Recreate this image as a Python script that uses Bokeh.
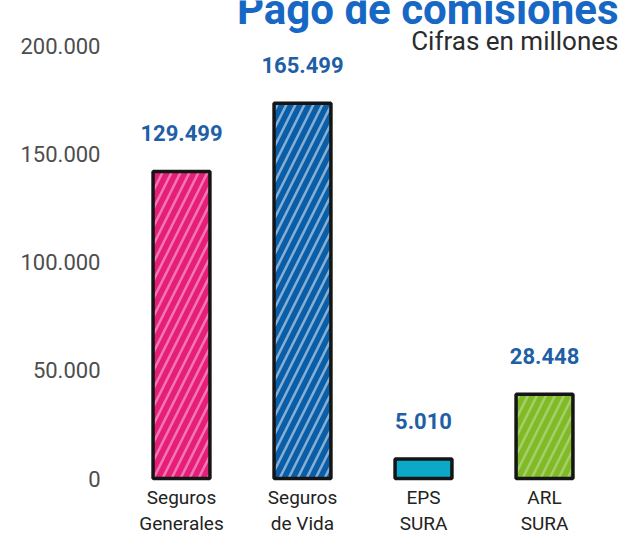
from bokeh.plotting import figure
from bokeh.models import FactorRange, Range1d, FixedTicker, ColumnDataSource
from bokeh.core.properties import value
from bokeh.embed import file_html
from bokeh.resources import INLINE

# ---- data ----
categorias = ["Seguros\nGenerales", "Seguros\nde Vida", "EPS\nSURA", "ARL\nSURA"]
etiquetas_valor = ["129.499", "165.499", "5.010", "28.448"]
alturas_dibujadas = [142000, 173500, 9000, 39000]   # bar heights as drawn on the axis
colores = ["#E61E7A", "#0A5EA8", "#0BA8C9", "#80BA27"]
hatch_alfa = [0.4, 0.5, 0.0, 0.3]
ticks = [0, 50000, 100000, 150000, 200000]
tick_labels = ["0", "50.000", "100.000", "150.000", "200.000"]
titulo = "Pago de comisiones"
subtitulo = "Cifras en millones"

src = ColumnDataSource(dict(cat=categorias, h=alturas_dibujadas, lab=etiquetas_valor,
                            col=colores, ha=hatch_alfa))

p = figure(width=620, height=535, output_backend="svg", toolbar_location=None,
           x_range=FactorRange(factors=categorias, range_padding=0.128,
                               range_padding_units="absolute"),
           y_range=Range1d(-26358, 221040),
           min_border_left=105, min_border_right=0, min_border_top=0, min_border_bottom=0)

p.background_fill_color = "white"
p.border_fill_color = "white"
p.outline_line_color = None
p.xgrid.visible = False
p.ygrid.visible = False
p.xaxis.visible = False

ya = p.yaxis[0]
ya.ticker = FixedTicker(ticks=ticks)
ya.major_label_overrides = {t: l for t, l in zip(ticks, tick_labels)}
ya.axis_line_color = None
ya.major_tick_line_color = None
ya.minor_tick_line_color = None
ya.major_tick_out = 0
ya.major_tick_in = 0
ya.major_label_standoff = 5
ya.major_label_text_font = "Roboto"
ya.major_label_text_font_size = "22px"
ya.major_label_text_color = "#4d4d4d"

p.vbar(x="cat", top="h", bottom=0, width=0.47, source=src,
       fill_color="col", line_color="#151515", line_width=3.5,
       hatch_pattern="/", hatch_color="white", hatch_alpha="ha",
       hatch_scale=18, hatch_weight=2.5)

p.text(x="cat", y="h", text="lab", source=src, y_offset=-38,
       text_align="center", text_baseline="alphabetic",
       text_font=value("Roboto"), text_font_style="bold",
       text_font_size="22px", text_color="#1F5FA6")

p.text(x="cat", y=-3237, text="cat", source=src,
       text_align="center", text_baseline="top",
       text_font=value("Roboto"), text_font_size="19px", text_color="#222222",
       text_line_height=1.15)

p.text(x=[categorias[-1]], y=[216879], text=[titulo], x_offset=74,
       text_align="right", text_baseline="alphabetic",
       text_font=value("Roboto"), text_font_style="bold",
       text_font_size="42px", text_color="#1767C4")

p.text(x=[categorias[-1]], y=[202081], text=[subtitulo], x_offset=74,
       text_align="right", text_baseline="alphabetic",
       text_font=value("Roboto"), text_font_size="26px", text_color="#2b2b2b")

open("out.html", "w").write(file_html(p, INLINE))
